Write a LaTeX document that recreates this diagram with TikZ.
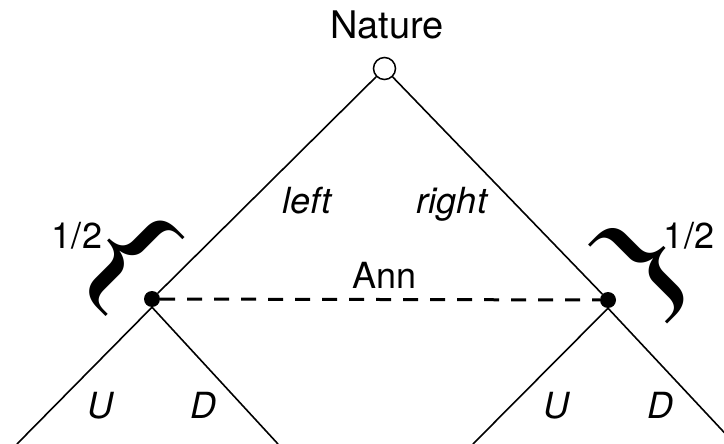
\documentclass[tikz,border=0pt]{standalone}
\usepackage{fontspec}
\setmainfont{TeX Gyre Heros}
\newfontfamily\bracefont{Liberation Serif}
\begin{document}
\begin{tikzpicture}[x=1pt,y=-1pt,
    lbl/.style={anchor=base,inner sep=0pt,font=\fontsize{36}{36}\selectfont},
    act/.style={lbl,font=\fontsize{36}{36}\selectfont\itshape},
    chance/.style={circle,draw,line width=1.5pt,fill=white,minimum size=22pt,inner sep=0pt},
    decision/.style={circle,fill=black,minimum size=16pt,inner sep=0pt},
    edge/.style={line width=1.6pt},
    infoset/.style={line width=3pt,dash pattern=on 15pt off 12pt},
    bigbrace/.style={inner sep=0pt,font=\fontsize{135}{135}\selectfont\bracefont}]
  \useasboundingbox (0,0) rectangle (724,444);
  \clip (0,0) rectangle (724,444);

  % nodes of the tree
  \node[chance]   (nat) at (384.5,68.5) {};
  \node[decision] (L)   at (152,299) {};
  \node[decision] (R)   at (608,300) {};
  \coordinate (LL) at (17,444);
  \coordinate (LR) at (278,444);
  \coordinate (RL) at (473,444);
  \coordinate (RR) at (735,444);

  % branches
  \draw[edge] (nat) -- (L);
  \draw[edge] (nat) -- (R);
  \draw[edge] (L.south) -- (LL);
  \draw[edge] (L.south) -- (LR);
  \draw[edge] (R.south) -- (RL);
  \draw[edge] (R.south) -- (RR);

  % information set of Ann
  \draw[infoset] (L) -- (R);

  % labels
  \node[lbl,font=\fontsize{38}{38}\selectfont] (natlbl) at (387,39) {Nature};
  \node[act] (lleft)  at (307,213) {left};
  \node[act] (lright) at (452,213) {right};
  \node[lbl] (ann)    at (384.5,288) {Ann};
  \node[lbl] (pl)     at (77,248) {1/2};
  \node[lbl] (pr)     at (689,248) {1/2};
  \node[act] (uL) at (100,418) {U};
  \node[act] (dL) at (203,418) {D};
  \node[act] (uR) at (556,418) {U};
  \node[act] (dR) at (660,418) {D};

  % probability braces
  \node[bigbrace,rotate=-45] (braceL) at (127,259) {\scalebox{1.3}[1]{\{}};
  \node[bigbrace,rotate=45]  (braceR) at (647,266) {\scalebox{1.3}[1]{\}}};
\end{tikzpicture}
\end{document}
